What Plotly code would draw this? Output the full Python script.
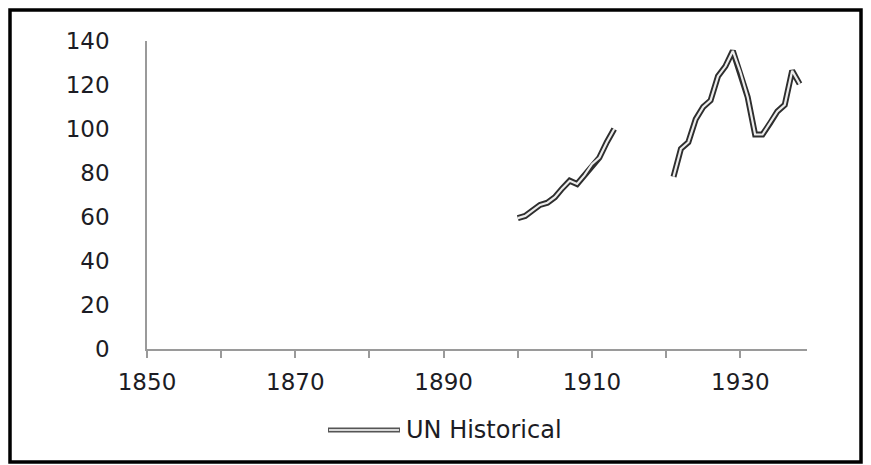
import plotly.graph_objects as go

years = list(range(1900, 1939))
un_historical = [
    59.5, 60.5, 63.0, 65.5, 66.5, 69.0, 73.0, 76.5, 75.0, 79.0,   # 1900-1909
    84.0, 87.0, 94.0, 100.0,                                       # 1910-1913
    None, None, None, None, None, None, None,                      # 1914-1920
    78.3, 91.0, 94.0, 104.5, 110.0, 113.0, 124.0, 128.5, 135.5,    # 1921-1929
    126.0, 114.5, 97.5, 97.5, 102.5, 108.0, 111.0, 126.5, 120.5,   # 1930-1938
]
series_name = "UN Historical"
x_tick_vals = [1850, 1870, 1890, 1910, 1930]
y_tick_vals = [0, 20, 40, 60, 80, 100, 120, 140]

FONT = "DejaVu Sans"
TXT = "#1c1c24"
OUTER = "#2e2e2e"
INNER = "#ececec"

# page body has an 8px margin: figure spans window px 8..871 / 8..465
W, H = 863, 457
L, T, PW, PH = 139, 33, 660, 308


def px(xf):
    return (xf - L) / PW


def py(yf):
    return (T + PH - yf) / PH


fig = go.Figure()
fig.add_trace(go.Scatter(x=years, y=un_historical, mode="lines", name=series_name,
                         line=dict(color=OUTER, width=6), connectgaps=False,
                         showlegend=False, hoverinfo="skip"))
fig.add_trace(go.Scatter(x=years, y=un_historical, mode="lines", name=series_name,
                         line=dict(color=INNER, width=2.2), connectgaps=False,
                         showlegend=False))

fig.update_layout(
    width=W, height=H,
    margin=dict(l=L, r=W - L - PW, t=T, b=H - T - PH),
    paper_bgcolor="white", plot_bgcolor="white",
    font=dict(family=FONT, size=23, color=TXT),
    xaxis=dict(range=[1850, 1939], tickmode="array", tickvals=x_tick_vals,
               ticktext=[str(v) for v in x_tick_vals],
               showgrid=False, zeroline=False, showline=True,
               linecolor="#9a9a9a", linewidth=1.5,
               ticks="outside", ticklen=7, tickcolor="#9a9a9a", tickwidth=1.5,
               minor=dict(tickmode="array", tickvals=[1860, 1880, 1900, 1920],
                          ticks="outside", ticklen=7, tickcolor="#9a9a9a", tickwidth=1.5),
               ticklabelstandoff=5,
               tickfont=dict(family=FONT, size=23, color=TXT)),
    yaxis=dict(range=[0, 140], tickmode="array", tickvals=y_tick_vals,
               showgrid=False, zeroline=False, showline=True,
               linecolor="#9a9a9a", linewidth=1.5, ticks="",
               ticklabelstandoff=31,
               tickfont=dict(family=FONT, size=23, color=TXT)),
    showlegend=False,
)

# Legend drawn manually to mimic the double-line symbol
leg_y = 430 - 8
fig.add_shape(type="line", xref="paper", yref="paper",
              x0=px(328 - 8), x1=px(400 - 8), y0=py(leg_y), y1=py(leg_y),
              line=dict(color="#555555", width=5))
fig.add_shape(type="line", xref="paper", yref="paper",
              x0=px(329 - 8), x1=px(399 - 8), y0=py(leg_y), y1=py(leg_y),
              line=dict(color="#d8d8d8", width=2))
fig.add_annotation(text=series_name, xref="paper", yref="paper",
                   x=px(404 - 8), y=py(leg_y),
                   xanchor="left", yanchor="middle", showarrow=False,
                   font=dict(family=FONT, size=24, color=TXT))

# Outer border of the chart
fig.add_shape(type="rect", xref="paper", yref="paper",
              x0=px(2), x1=px(853), y0=py(454), y1=py(2),
              line=dict(color="black", width=3.5), layer="above")

fig.write_html("out.html")
